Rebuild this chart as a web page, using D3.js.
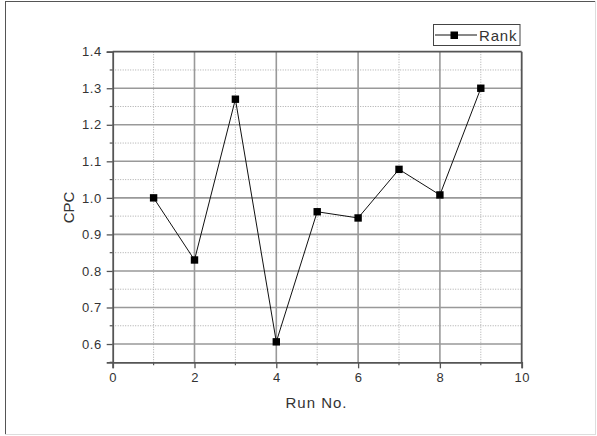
<!DOCTYPE html>
<html>
<head>
<meta charset="utf-8">
<script src="https://cdn.jsdelivr.net/npm/d3@7"></script>
<style>
  html, body { margin: 0; padding: 0; background: #fff; }
  svg { display: block; font-family: "Liberation Sans", Arial, sans-serif; }
</style>
</head>
<body>
<svg id="chart" width="597" height="436"></svg>
<script>
const runs = [1, 2, 3, 4, 5, 6, 7, 8, 9];
const cpc = [1.0, 0.83, 1.27, 0.606, 0.962, 0.945, 1.078, 1.008, 1.30];
const seriesName = "Rank";
const xMajorTicks = [0, 2, 4, 6, 8, 10];
const xMinorTicks = [1, 3, 5, 7, 9];
const yMajorTicks = [0.6, 0.7, 0.8, 0.9, 1.0, 1.1, 1.2, 1.3, 1.4];
const yMinorTicks = [0.55, 0.65, 0.75, 0.85, 0.95, 1.05, 1.15, 1.25, 1.35];
const xTitle = "Run No.";
const yTitle = "CPC";

const svg = d3.select("#chart");
const L = 112.7, R = 521.7, T = 51.7, B = 362.3;

const x = d3.scaleLinear().domain([0, 10]).range([L, R]);
const y = d3.scaleLinear().domain([0.55, 1.4]).range([B, T]);

// outer frame
svg.append("line").attr("x1", 5).attr("x2", 596).attr("y1", 1.5).attr("y2", 1.5).attr("stroke", "#555").attr("stroke-width", 1);
svg.append("line").attr("x1", 5.5).attr("x2", 5.5).attr("y1", 1).attr("y2", 434).attr("stroke", "#555").attr("stroke-width", 1);
svg.append("line").attr("x1", 5).attr("x2", 596).attr("y1", 434.5).attr("y2", 434.5).attr("stroke", "#ddd").attr("stroke-width", 1);
svg.append("line").attr("x1", 595.5).attr("x2", 595.5).attr("y1", 1).attr("y2", 435).attr("stroke", "#ddd").attr("stroke-width", 1);

const g = svg.append("g");

// minor grid (dotted)
g.selectAll(".gxm").data(xMinorTicks).join("line")
  .attr("x1", d => x(d)).attr("x2", d => x(d)).attr("y1", T).attr("y2", B)
  .attr("stroke", "#aaa").attr("stroke-width", 1).attr("stroke-dasharray", "1,1.5");
g.selectAll(".gym").data(yMinorTicks.filter(d => d > 0.56)).join("line")
  .attr("x1", L).attr("x2", R).attr("y1", d => y(d)).attr("y2", d => y(d))
  .attr("stroke", "#aaa").attr("stroke-width", 1).attr("stroke-dasharray", "1,1.5");

// major grid (solid)
g.selectAll(".gx").data(xMajorTicks.filter(d => d > 0 && d < 10)).join("line")
  .attr("x1", d => x(d)).attr("x2", d => x(d)).attr("y1", T).attr("y2", B)
  .attr("stroke", "#999").attr("stroke-width", 1.6);
g.selectAll(".gy").data(yMajorTicks.filter(d => d < 1.39)).join("line")
  .attr("x1", L).attr("x2", R).attr("y1", d => y(d)).attr("y2", d => y(d))
  .attr("stroke", "#999").attr("stroke-width", 1.6);

// axes
const xAxis = d3.axisBottom(x).tickValues(xMajorTicks).tickSize(6).tickPadding(4).tickFormat(d3.format("d"));
const yAxis = d3.axisLeft(y).tickValues(yMajorTicks).tickSize(6).tickPadding(5).tickFormat(d3.format(".1f"));

const gx = svg.append("g").attr("transform", `translate(0,${B})`).call(xAxis);
const gy = svg.append("g").attr("transform", `translate(${L},0)`).call(yAxis);
[gx, gy].forEach(a => {
  a.select(".domain").attr("stroke", "#555").attr("stroke-width", 1.8);
  a.selectAll(".tick line").attr("stroke", "#555").attr("stroke-width", 1.3);
  a.selectAll(".tick text").attr("fill", "#333").style("font-size", "13px")
    .style("letter-spacing", "0.5px")
    .style("font-family", "'Liberation Sans', Arial, sans-serif");
});
// minor ticks
svg.append("g").selectAll("line").data(xMinorTicks).join("line")
  .attr("x1", d => x(d)).attr("x2", d => x(d)).attr("y1", B).attr("y2", B + 3)
  .attr("stroke", "#555").attr("stroke-width", 1.2);
svg.append("g").selectAll("line").data(yMinorTicks).join("line")
  .attr("x1", L - 3).attr("x2", L).attr("y1", d => y(d)).attr("y2", d => y(d))
  .attr("stroke", "#555").attr("stroke-width", 1.2);

// top & right frame
svg.append("line").attr("x1", L).attr("x2", R).attr("y1", T).attr("y2", T).attr("stroke", "#555").attr("stroke-width", 1.8);
svg.append("line").attr("x1", R).attr("x2", R).attr("y1", T).attr("y2", B).attr("stroke", "#555").attr("stroke-width", 1.8);

// data line
const pts = runs.map((r, i) => [r, cpc[i]]);
svg.append("path").datum(pts)
  .attr("d", d3.line().x(d => x(d[0])).y(d => y(d[1])))
  .attr("fill", "none").attr("stroke", "#111").attr("stroke-width", 1);
const ms = 7.4;
svg.append("g").selectAll("rect").data(pts).join("rect")
  .attr("x", d => x(d[0]) - ms / 2).attr("y", d => y(d[1]) - ms / 2)
  .attr("width", ms).attr("height", ms).attr("fill", "#000");

// axis titles
svg.append("text").attr("x", 316.5).attr("y", 408).attr("text-anchor", "middle")
  .attr("fill", "#333").style("font-size", "15px").style("letter-spacing", "1px").text(xTitle);
svg.append("text").attr("transform", "translate(73.5,207.5) rotate(-90)").attr("text-anchor", "middle")
  .attr("fill", "#333").style("font-size", "15px").text(yTitle);

// legend
const lg = svg.append("g");
lg.append("rect").attr("x", 433.5).attr("y", 24.5).attr("width", 86.5).attr("height", 21)
  .attr("fill", "#fff").attr("stroke", "#444").attr("stroke-width", 1);
lg.append("line").attr("x1", 435).attr("x2", 477).attr("y1", 35).attr("y2", 35).attr("stroke", "#111").attr("stroke-width", 1);
lg.append("rect").attr("x", 450.5).attr("y", 31.5).attr("width", 7.5).attr("height", 7.5).attr("fill", "#000");
lg.append("text").attr("x", 479).attr("y", 41).attr("fill", "#333").style("font-size", "15px")
  .style("letter-spacing", "0.8px").text(seriesName);
</script>
</body>
</html>
